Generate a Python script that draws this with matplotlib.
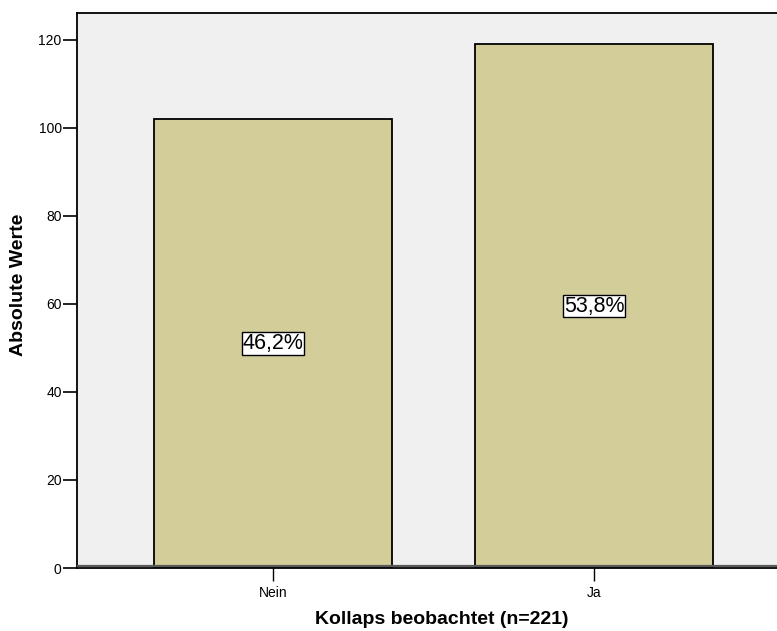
import numpy as np
import matplotlib
matplotlib.use("Agg")
import matplotlib.pyplot as plt
import matplotlib.transforms as mtransforms

# Kollaps beobachtet, absolute counts and percentages
categories = ["Nein", "Ja"]
counts = [102, 119]
percent_labels = ["46,2%", "53,8%"]
y_ticks = [0, 20, 40, 60, 80, 100, 120]

plt.rcParams['font.family'] = ['Liberation Sans', 'DejaVu Sans']

fig = plt.figure(figsize=(7.77, 6.31), dpi=100)
ax = fig.add_axes([77 / 777, 63 / 631, 1 - 77 / 777, 555 / 631])
ax.set_facecolor('#F0F0F0')

x = np.arange(len(categories))
ax.bar(x, counts, width=0.74, color='#D3CE99', edgecolor='black', linewidth=1.3, zorder=2)

# grey baseline sitting just above the black axis line
shift = mtransforms.offset_copy(ax.get_yaxis_transform(), fig=fig, y=1.4, units='points')
ax.plot([0, 1], [0, 0], transform=shift, color='#5a5a5a', linewidth=1.6, zorder=3)

# percentage boxes in the middle of each bar
for xi, c, lab in zip(x, counts, percent_labels):
    ax.text(xi, c / 2, lab, ha='center', va='center', fontsize=15.5, zorder=4,
            bbox=dict(boxstyle='square,pad=0.04', facecolor='white', edgecolor='black', linewidth=1))

ax.set_xlim(-0.61, 1.57)
ax.set_ylim(0, 126.1)
ax.set_xticks(x)
ax.set_xticklabels(categories, fontsize=10)
ax.set_yticks(y_ticks)
ax.set_yticklabels([str(v) for v in y_ticks], fontsize=10)
ax.tick_params(axis='y', length=10, width=1.2, pad=1)
ax.tick_params(axis='x', length=9, width=1, pad=4)

for s in ['left', 'top', 'bottom']:
    ax.spines[s].set_linewidth(1.3)
    ax.spines[s].set_color('black')
ax.spines['right'].set_visible(False)

fig.text(442 / 777, 1 - 620 / 631, "Kollaps beobachtet (n=221)", ha='center', va='center',
         fontsize=14, fontweight='bold')
fig.text(19 / 777, 1 - 285 / 631, "Absolute Werte", ha='center', va='center',
         rotation=90, fontsize=14, fontweight='bold')

fig.savefig("out.png", dpi=100)
